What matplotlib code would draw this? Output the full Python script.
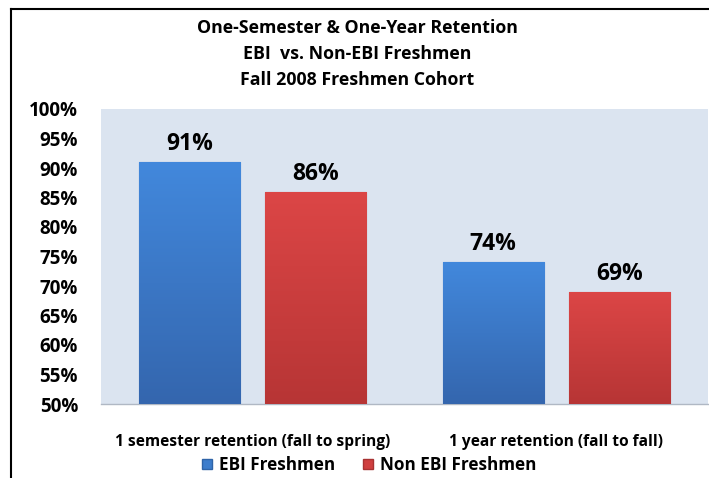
import matplotlib
matplotlib.use("Agg")
import matplotlib.pyplot as plt
from matplotlib.lines import Line2D
from matplotlib.patches import Rectangle
from matplotlib.colors import LinearSegmentedColormap
import numpy as np

categories = ["1 semester retention (fall to spring)", "1 year retention (fall to fall)"]
series_names = ["EBI Freshmen", "Non EBI Freshmen"]
ebi = [91, 74]
non_ebi = [86, 69]
yticks = [50, 55, 60, 65, 70, 75, 80, 85, 90, 95, 100]
title_lines = ["One-Semester & One-Year Retention", "EBI  vs. Non-EBI Freshmen", "Fall 2008 Freshmen Cohort"]

plt.rcParams['font.family'] = ['Open Sans', 'DejaVu Sans']
fig = plt.figure(figsize=(7.09, 4.78), dpi=100)
W, H = 709, 478
ax = fig.add_axes([101 / W, 1 - 404 / H, (708 - 101) / W, (404 - 109) / H])
ax.set_facecolor('#dbe4f0')

x = np.arange(len(categories))
bw = 0.333
off = 0.208
colors = ['#3d7dcc', '#cf3f3f']
edges = ['#2f64a8', '#a83232']
b1 = ax.bar(x - off, ebi, bw, color=colors[0], edgecolor=edges[0], linewidth=0.8, label=series_names[0], zorder=3)
b2 = ax.bar(x + off, non_ebi, bw, color=colors[1], edgecolor=edges[1], linewidth=0.8, label=series_names[1], zorder=3)

grad = np.linspace(0, 1, 256).reshape(-1, 1)
for bars, cmapcols in ((b1, ['#3466ae', '#4288dc']), (b2, ['#b73535', '#dc4646'])):
    cm = LinearSegmentedColormap.from_list('g', cmapcols)
    for r in bars:
        x0, y0, w, h = r.get_x(), r.get_y(), r.get_width(), r.get_height()
        im = ax.imshow(grad, cmap=cm, origin='lower', aspect='auto',
                       extent=[x0, x0 + w, 50, y0 + h], zorder=3.5)
        im.set_clip_path(r)

for bars, vals in ((b1, ebi), (b2, non_ebi)):
    for r, v in zip(bars, vals):
        ax.text(r.get_x() + r.get_width() / 2, v + 1.0, f"{v}%", ha='center', va='bottom',
                fontsize=16.5, fontweight='bold', color='black', zorder=5)

ax.set_xlim(-0.5, 1.5)
ax.set_ylim(50, 100)
ax.set_yticks(yticks)
ax.set_yticklabels([f"{t}%" for t in yticks], fontsize=13.5, fontweight='bold')
ax.set_xticks(x)
ax.set_xticklabels(categories, fontsize=11.2, fontweight='bold')
ax.tick_params(axis='both', length=0)
ax.tick_params(axis='y', pad=16.5)
ax.tick_params(axis='x', pad=21.5)
for s in ['top', 'right', 'left']:
    ax.spines[s].set_visible(False)
ax.spines['bottom'].set_color('#b0b8c4')
ax.spines['bottom'].set_linewidth(1)

for i, t in enumerate(title_lines):
    fig.text(357 / W, 1 - (28 + 26 * i) / H, t, ha='center', va='center', fontsize=12.8, fontweight='bold')

handles = [Rectangle((0, 0), 1, 1, facecolor=colors[0], edgecolor=edges[0]),
           Rectangle((0, 0), 1, 1, facecolor=colors[1], edgecolor=edges[1])]
fig.legend(handles, series_names, loc='center', bbox_to_anchor=(369 / W, 1 - 465 / H), ncol=2,
           frameon=False, prop={'weight': 'bold', 'size': 12.3}, handlelength=0.6, handleheight=0.6,
           handletextpad=0.4, columnspacing=1.6)

fig.add_artist(Line2D([11 / W, 11 / W], [0, 1 - 9 / H], color='black', linewidth=1.5))
fig.add_artist(Line2D([11 / W, 1], [1 - 9 / H, 1 - 9 / H], color='black', linewidth=1.5))

fig.savefig('out.png', dpi=100)
